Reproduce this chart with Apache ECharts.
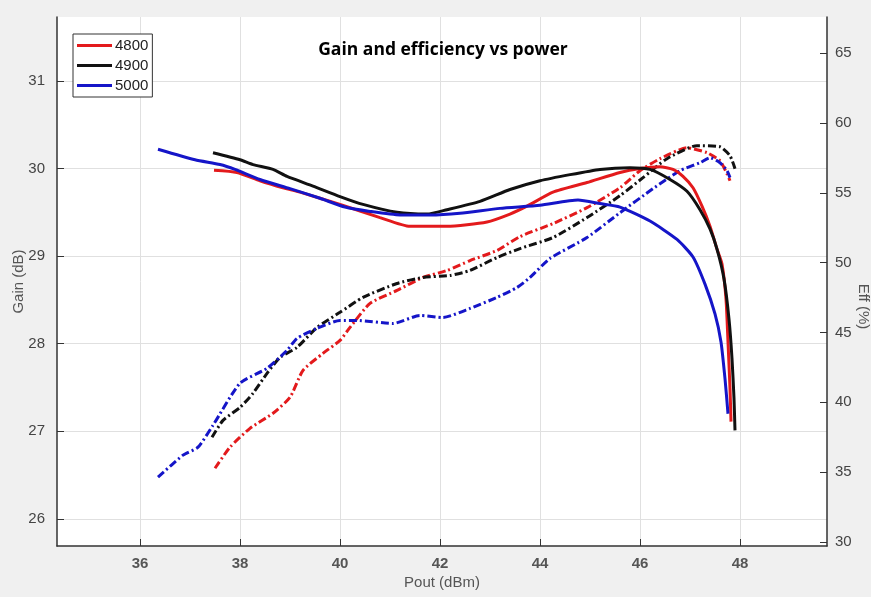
<!DOCTYPE html>
<html>
<head>
<meta charset="utf-8">
<script src="https://cdn.jsdelivr.net/npm/echarts@6/dist/echarts.min.js"></script>
<style>
  html, body { margin: 0; padding: 0; background: #f0f0f0; }
  #chart { width: 871px; height: 597px; }
</style>
</head>
<body>
<div id="chart"></div>
<script>
// ---- Data ----
const title = 'Gain and efficiency vs power';
const seriesNames = ['4800', '4900', '5000'];

const xTicks = [36, 38, 40, 42, 44, 46, 48];
const gainTicks = [26, 27, 28, 29, 30, 31];
const effTicks = [30, 35, 40, 45, 50, 55, 60, 65];

// Gain (dB) vs Pout (dBm)
const gain4800Pout = [37.48, 37.94, 38.4, 38.86, 39.2, 40.0, 40.8, 41.4, 42.14, 42.94, 43.4, 43.74, 44.26, 44.94, 45.6, 46.0, 46.4, 46.66, 46.86, 47.06, 47.24, 47.4, 47.54, 47.64, 47.72, 47.76, 47.8, 47.82];
const gain4800 = [29.98, 29.955, 29.86, 29.78, 29.73, 29.59, 29.44, 29.34, 29.34, 29.39, 29.48, 29.57, 29.73, 29.84, 29.955, 30.0, 30.02, 29.99, 29.91, 29.78, 29.57, 29.34, 29.08, 28.91, 28.51, 28.02, 27.49, 27.11];

const gain4900Pout = [37.46, 38.0, 38.26, 38.66, 38.94, 39.46, 40.0, 40.46, 41.14, 41.74, 42.14, 42.8, 43.4, 44.0, 44.6, 45.2, 45.8, 46.2, 46.6, 46.94, 47.2, 47.4, 47.54, 47.68, 47.78, 47.84, 47.88, 47.9];
const gain4900 = [30.18, 30.10, 30.045, 29.99, 29.91, 29.80, 29.68, 29.59, 29.50, 29.48, 29.53, 29.625, 29.76, 29.86, 29.93, 29.99, 30.01, 29.99, 29.875, 29.74, 29.53, 29.31, 29.08, 28.74, 28.28, 27.83, 27.375, 27.01];

const gain5000Pout = [36.36, 37.1, 37.6, 37.9, 38.4, 39.0, 39.6, 40.1, 40.6, 41.2, 41.8, 42.4, 43.2, 44.0, 44.76, 45.2, 45.6, 46.2, 46.74, 47.06, 47.3, 47.5, 47.62, 47.7, 47.76];
const gain5000 = [30.22, 30.10, 30.045, 29.99, 29.875, 29.77, 29.66, 29.56, 29.51, 29.47, 29.47, 29.49, 29.545, 29.58, 29.64, 29.60, 29.56, 29.40, 29.19, 28.99, 28.68, 28.34, 28.02, 27.60, 27.20];

// Efficiency (%) vs Pout (dBm)
const eff4800Pout = [37.5, 37.8, 38.2, 38.66, 39.0, 39.26, 39.66, 40.0, 40.2, 40.6, 41.14, 41.66, 42.14, 42.6, 43.14, 43.6, 44.26, 44.94, 45.6, 46.0, 46.4, 46.94, 47.34, 47.6, 47.74, 47.8];
const eff4800 = [35.27, 36.78, 38.13, 39.21, 40.35, 42.28, 43.5, 44.43, 45.36, 47.08, 48.01, 48.94, 49.44, 50.15, 50.87, 51.87, 52.8, 53.94, 55.37, 56.59, 57.45, 58.23, 57.88, 57.3, 56.37, 55.87];

const eff4900Pout = [37.44, 37.66, 38.0, 38.26, 38.54, 38.8, 39.14, 39.54, 40.0, 40.46, 41.14, 41.66, 42.2, 42.6, 43.14, 43.6, 44.26, 44.94, 45.6, 46.06, 46.54, 47.14, 47.6, 47.8, 47.9];
const eff4900 = [37.49, 38.7, 39.63, 40.64, 42.07, 43.21, 43.93, 45.36, 46.44, 47.51, 48.51, 48.94, 49.08, 49.44, 50.37, 51.01, 51.8, 53.23, 54.8, 56.09, 57.45, 58.38, 58.3, 57.66, 56.73];

const eff5000Pout = [36.36, 36.86, 37.16, 37.46, 38.0, 38.54, 38.94, 39.14, 39.54, 40.0, 40.34, 41.06, 41.6, 42.06, 42.6, 43.14, 43.54, 43.8, 44.2, 44.94, 45.6, 46.26, 46.8, 47.2, 47.4, 47.6, 47.74, 47.8];
const eff5000 = [34.63, 36.21, 36.78, 38.35, 41.36, 42.43, 43.72, 44.57, 45.29, 45.86, 45.86, 45.64, 46.22, 46.07, 46.72, 47.51, 48.22, 48.94, 50.3, 51.8, 53.58, 55.3, 56.59, 57.16, 57.52, 57.16, 56.59, 56.09];

// ---- Build ----
const colors = { '4800': '#e31a1c', '4900': '#111111', '5000': '#1515c8' };
const zip = (xs, ys) => xs.map((x, i) => [x, ys[i]]);

const gainSets = { '4800': [gain4800Pout, gain4800], '4900': [gain4900Pout, gain4900], '5000': [gain5000Pout, gain5000] };
const effSets = { '4800': [eff4800Pout, eff4800], '4900': [eff4900Pout, eff4900], '5000': [eff5000Pout, eff5000] };

const series = [];
seriesNames.forEach(n => {
  series.push({
    name: n, type: 'line', yAxisIndex: 0, symbol: 'none', smooth: 0.2,
    data: zip(gainSets[n][0], gainSets[n][1]),
    lineStyle: { color: colors[n], width: 3 }, itemStyle: { color: colors[n] },
    z: 3
  });
});
seriesNames.forEach(n => {
  series.push({
    name: n + ' eff', type: 'line', yAxisIndex: 1, symbol: 'none', smooth: 0.2,
    data: zip(effSets[n][0], effSets[n][1]),
    lineStyle: { color: colors[n], width: 3, type: [8, 3, 2, 3] }, itemStyle: { color: colors[n] },
    z: 2
  });
});

const FONT = 'Liberation Sans, Arial, sans-serif';
const axisText = { color: '#444', fontSize: 15, fontFamily: FONT };

const chart = echarts.init(document.getElementById('chart'), null, { renderer: 'canvas' });
chart.setOption({
  backgroundColor: '#f0f0f0',
  animation: false,
  title: {
    text: title, left: 438, top: 36, textAlign: 'center',
    textStyle: { fontFamily: 'Open Sans, Liberation Sans, sans-serif', fontWeight: 'bold', fontSize: 17.5, color: '#000' }
  },
  legend: {
    data: seriesNames.map(n => ({ name: n, icon: 'rect' })),
    orient: 'vertical', left: 73, top: 34,
    itemWidth: 35, itemHeight: 3, itemGap: 5,
    padding: [4, 4, 4, 4],
    borderColor: '#333', borderWidth: 1, backgroundColor: '#fff', borderRadius: 0,
    textStyle: { color: '#222', fontSize: 15, fontFamily: FONT, padding: [0, 0, 0, -2] }
  },
  grid: { left: 57, right: 44, top: 17, bottom: 51, show: true, backgroundColor: '#fff', borderWidth: 0, containLabel: false, outerBoundsMode: 'none' },
  xAxis: {
    type: 'value', min: 34.34, max: 49.74,
    name: 'Pout (dBm)', nameLocation: 'middle', nameGap: 29, nameMoveOverlap: false,
    nameTextStyle: { color: '#555', fontSize: 15, fontFamily: FONT },
    axisLine: { show: true, onZero: false, lineStyle: { color: '#333', width: 1.5 } },
    axisTick: { show: true, inside: true, length: 7, customValues: xTicks, lineStyle: { color: '#333' } },
    axisLabel: { customValues: xTicks, margin: 10, color: '#555', fontSize: 15, fontWeight: 'bold', fontFamily: FONT },
    splitLine: { show: true, lineStyle: { color: '#e0e0e0', width: 1 } }
  },
  yAxis: [
    {
      type: 'value', min: 25.69, max: 31.73, position: 'left',
      name: 'Gain (dB)', nameLocation: 'middle', nameGap: 31, nameMoveOverlap: false,
      nameTextStyle: { color: '#555', fontSize: 15, fontFamily: FONT },
      axisLine: { show: true, lineStyle: { color: '#333', width: 1.5 } },
      axisTick: { show: true, inside: true, length: 7, customValues: gainTicks, lineStyle: { color: '#333' } },
      axisLabel: Object.assign({ customValues: gainTicks, margin: 12 }, axisText),
      splitLine: { show: true, lineStyle: { color: '#e0e0e0', width: 1 } }
    },
    {
      type: 'value', min: 29.7, max: 67.6, position: 'right',
      name: 'Eff (%)', nameLocation: 'middle', nameGap: 29, nameRotate: -90, nameMoveOverlap: false,
      nameTextStyle: { color: '#555', fontSize: 15, fontFamily: FONT, padding: [0, 0, 0, 50] },
      axisLine: { show: true, lineStyle: { color: '#333', width: 1.5 } },
      axisTick: { show: true, inside: true, length: 7, customValues: effTicks, lineStyle: { color: '#333' } },
      axisLabel: Object.assign({ customValues: effTicks, margin: 8 }, axisText),
      splitLine: { show: false }
    }
  ],
  series: series
});
</script>
</body>
</html>
